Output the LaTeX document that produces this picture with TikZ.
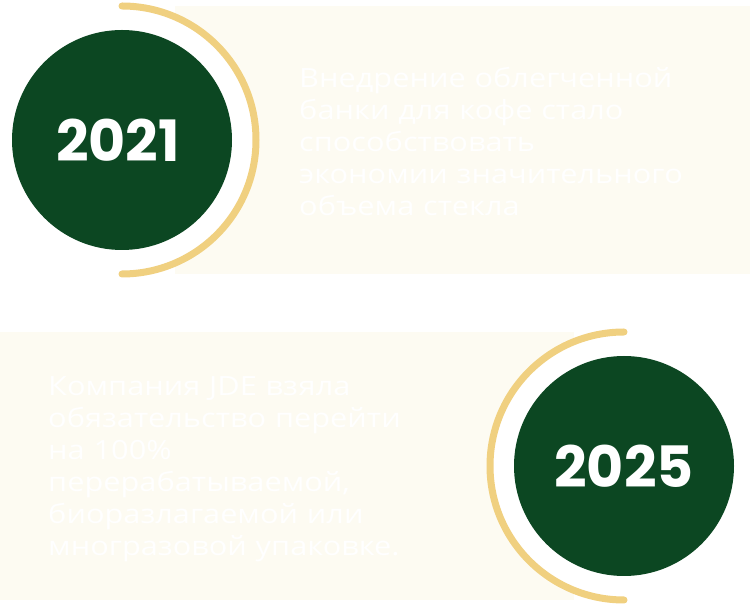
\documentclass[tikz,border=0pt]{standalone}
\usepackage{fontspec}
\setmainfont{Open Sans}
\newfontfamily\bodyfont[FakeStretch=1.16]{Open Sans}
\newfontfamily\yearfont{Poppins}
\definecolor{deepgreen}{RGB}{12,71,34}
\definecolor{gold}{RGB}{240,208,128}
\definecolor{cream}{RGB}{253,251,242}
\tikzset{
  x=1pt, y=1pt,
  panel/.style={fill=cream, draw=none},
  gap/.style={fill=white, draw=none},
  ring/.style={draw=gold, line width=7pt, line cap=round},
  yearcircle/.style={circle, fill=deepgreen, minimum size=220pt, inner sep=0pt},
  yearlabel/.style={text=white, font=\yearfont\bfseries\fontsize{57}{57}\selectfont, inner sep=0pt, text depth=0pt},
  bodytext/.style={text=white, font=\bodyfont\fontsize{26.5}{32}\selectfont, align=left, inner sep=0pt, anchor=base west, text width=440pt}
}
\begin{document}
\begin{tikzpicture}
\useasboundingbox (0,0) rectangle (750,610);
% top panel
\fill[panel] (175,336) rectangle (750,604);
\fill[gap] (122,470) circle (134);
\draw[ring] (122,604) arc[start angle=90, end angle=-90, radius=134];
\node[yearcircle] (c1) at (122,470) {};
\node[yearlabel] (y1) at (118,470) {2021};
\node[bodytext] (t1) at (299,522) {Внедрение облегченной\\банки для кофе стало\\способствовать\\экономии значительного\\объема стекла};
% bottom panel
\fill[panel] (0,10) rectangle (574,278);
\fill[gap] (624,144) circle (134);
\draw[ring] (624,278) arc[start angle=90, end angle=270, radius=134];
\node[yearcircle] (c2) at (624,144) {};
\node[yearlabel] (y2) at (624,144) {2025};
\node[bodytext] (t2) at (48,214) {Компания JDE взяла\\обязательство перейти\\на 100\%\\перерабатываемой,\\биоразлагаемой или\\многразовой упаковке.};
\end{tikzpicture}
\end{document}
